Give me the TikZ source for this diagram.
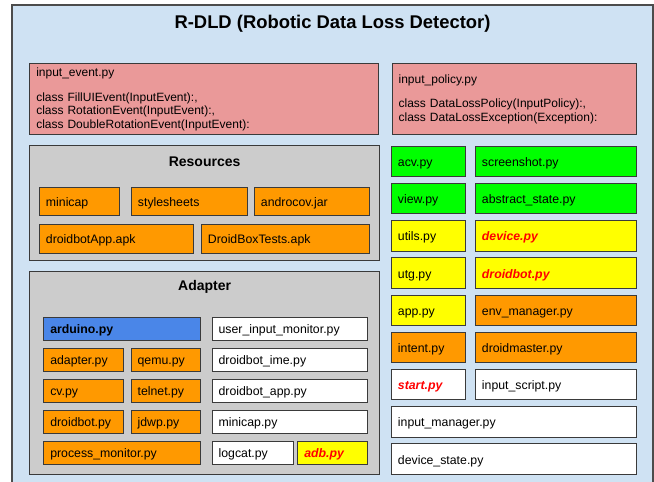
\documentclass[tikz,border=0pt]{standalone}
\usepackage{fontspec}
\setmainfont{Liberation Sans}
\usepackage{tikz}
\usetikzlibrary{positioning}
\usepackage{xcolor}
\definecolor{paleblue}{HTML}{CFE2F3}
\definecolor{panel}{HTML}{CCCCCC}
\definecolor{amber}{HTML}{FF9900}
\definecolor{rosy}{HTML}{EA9999}
\definecolor{lime}{HTML}{00FF00}
\definecolor{lemon}{HTML}{FFFF00}
\definecolor{cornflower}{HTML}{4A86E8}
\definecolor{edge}{HTML}{3A3A3A}
\definecolor{alert}{HTML}{FF0000}

\begin{document}
\begin{tikzpicture}[
        x=1pt, y=-1pt,
        base/.style={rectangle, draw=edge, line width=0.9pt, align=left,
                     inner xsep=6.5pt, inner ysep=0pt},
        cell/.style={base, font=\fontsize{12.3}{14}\selectfont,
                     text height=11pt, text depth=1pt, minimum height=30.5pt},
        org/.style={cell, fill=amber},
        grn/.style={cell, fill=lime},
        yel/.style={cell, fill=lemon},
        wht/.style={cell, fill=white},
        blu/.style={cell, fill=cornflower, font=\fontsize{12.3}{14}\selectfont\bfseries},
        pnk/.style={base, fill=rosy, font=\fontsize{12}{13.7}\selectfont},
        grp/.style={rectangle, draw=edge, line width=0.9pt, fill=panel,
                    anchor=north west, minimum width=349.7pt},
        grptitle/.style={font=\fontsize{14}{17}\selectfont\bfseries},
        hot/.style={font=\fontsize{12.3}{14}\selectfont\bfseries\itshape, text=alert},
        res/.style={org, minimum height=28.6pt},
        ada/.style={minimum height=23.6pt},
        node distance=5.8pt,
      ]
        \fill[white] (0,0) rectangle (654,482);
        \useasboundingbox (0,0) rectangle (654,482);
        \draw[fill=paleblue, draw=black!70, line width=1.2pt] (12,5) rectangle (653,492);
        \node[font=\fontsize{18.4}{22}\selectfont\bfseries] (title) at (332.5,24) {R-DLD (Robotic Data Loss Detector)};

        % event and policy classes
        \node[pnk, anchor=north west, text width=336pt, minimum height=71pt] (evt) at (29.3,63.3)
          {input\_event.py\\[11pt]class FillUIEvent(InputEvent):,\\class RotationEvent(InputEvent):,\\class DoubleRotationEvent(InputEvent):};
        \node[pnk, anchor=north west, text width=231.3pt, minimum height=71pt] (pol) at (391.7,63.3)
          {input\_policy.py\\[11pt]class DataLossPolicy(InputPolicy):,\\class DataLossException(Exception):};

        % resources
        \node[grp, minimum height=115pt] (resbox) at (29.3,145) {};
        \node[grptitle] (restitle) at ([yshift=-17pt]resbox.north) {Resources};
        \node[res, anchor=north west, text width=67.3pt] (minicap) at (39,186.7) {minicap};
        \node[res, text width=102.7pt, right=10.8pt of minicap] (styles) {stylesheets};
        \node[res, text width=102.3pt, right=6.4pt of styles] (androcov) {androcov.jar};
        \node[res, text width=141.3pt, below=7.8pt of minicap.south west, anchor=north west] (botapk) {droidbotApp.apk};
        \node[res, text width=155.3pt, right=6.8pt of botapk] (boxapk) {DroidBoxTests.apk};

        % adapter
        \node[grp, minimum height=203.3pt] (adabox) at (29.3,271) {};
        \node[grptitle] (adatitle) at ([yshift=-15.7pt]adabox.north) {Adapter};
        \node[blu, ada, anchor=north west, text width=143.7pt] (arduino) at (43.3,316.7) {arduino.py};
        \node[org, ada, text width=67pt, below=6.5pt of arduino.south west, anchor=north west] (adapter) {adapter.py};
        \node[org, ada, text width=56.3pt, right=6.5pt of adapter] (qemu) {qemu.py};
        \node[org, ada, text width=67pt, below=6.5pt of adapter] (cv) {cv.py};
        \node[org, ada, text width=56.3pt, right=6.5pt of cv] (telnet) {telnet.py};
        \node[org, ada, text width=67pt, below=6.5pt of cv] (bot) {droidbot.py};
        \node[org, ada, text width=56.3pt, right=6.5pt of bot] (jdwp) {jdwp.py};
        \node[org, ada, text width=143.7pt, below=6.5pt of bot.south west, anchor=north west] (procmon) {process\_monitor.py};
        \node[wht, ada, anchor=north west, text width=142pt] (uim) at (211.7,316.7) {user\_input\_monitor.py};
        \node[wht, ada, text width=142pt, below=6.5pt of uim] (ime) {droidbot\_ime.py};
        \node[wht, ada, text width=142pt, below=6.5pt of ime] (botapp) {droidbot\_app.py};
        \node[wht, ada, text width=142pt, below=6.5pt of botapp] (minipy) {minicap.py};
        \node[wht, ada, text width=68pt, below=6.5pt of minipy.south west, anchor=north west] (logcat) {logcat.py};
        \node[yel, ada, hot, text width=56.4pt, right=3.7pt of logcat] (adb) {adb.py};

        % core modules
        \node[grn, anchor=north west, text width=61pt] (acv) at (391,145.7) {acv.py};
        \node[grn, text width=148pt, right=9.1pt of acv] (shot) {screenshot.py};
        \node[grn, text width=61pt, below=of acv] (view) {view.py};
        \node[grn, text width=148pt, below=of shot] (abstract) {abstract\_state.py};
        \node[yel, text width=61pt, below=of view] (utils) {utils.py};
        \node[yel, hot, text width=148pt, below=of abstract] (device) {device.py};
        \node[yel, text width=61pt, below=of utils] (utg) {utg.py};
        \node[yel, hot, text width=148pt, below=of device] (droidbot) {droidbot.py};
        \node[yel, text width=61pt, below=of utg] (app) {app.py};
        \node[org, text width=148pt, below=of droidbot] (envman) {env\_manager.py};
        \node[org, text width=61pt, below=of app] (intent) {intent.py};
        \node[org, text width=148pt, below=of envman] (master) {droidmaster.py};
        \node[wht, hot, text width=61pt, below=of intent] (start) {start.py};
        \node[wht, text width=148pt, below=of master] (script) {input\_script.py};
        \node[wht, text width=232pt, below=of start.south west, anchor=north west] (inman) {input\_manager.py};
        \node[wht, text width=232pt, below=of inman] (devstate) {device\_state.py};
      \end{tikzpicture}
\end{document}
